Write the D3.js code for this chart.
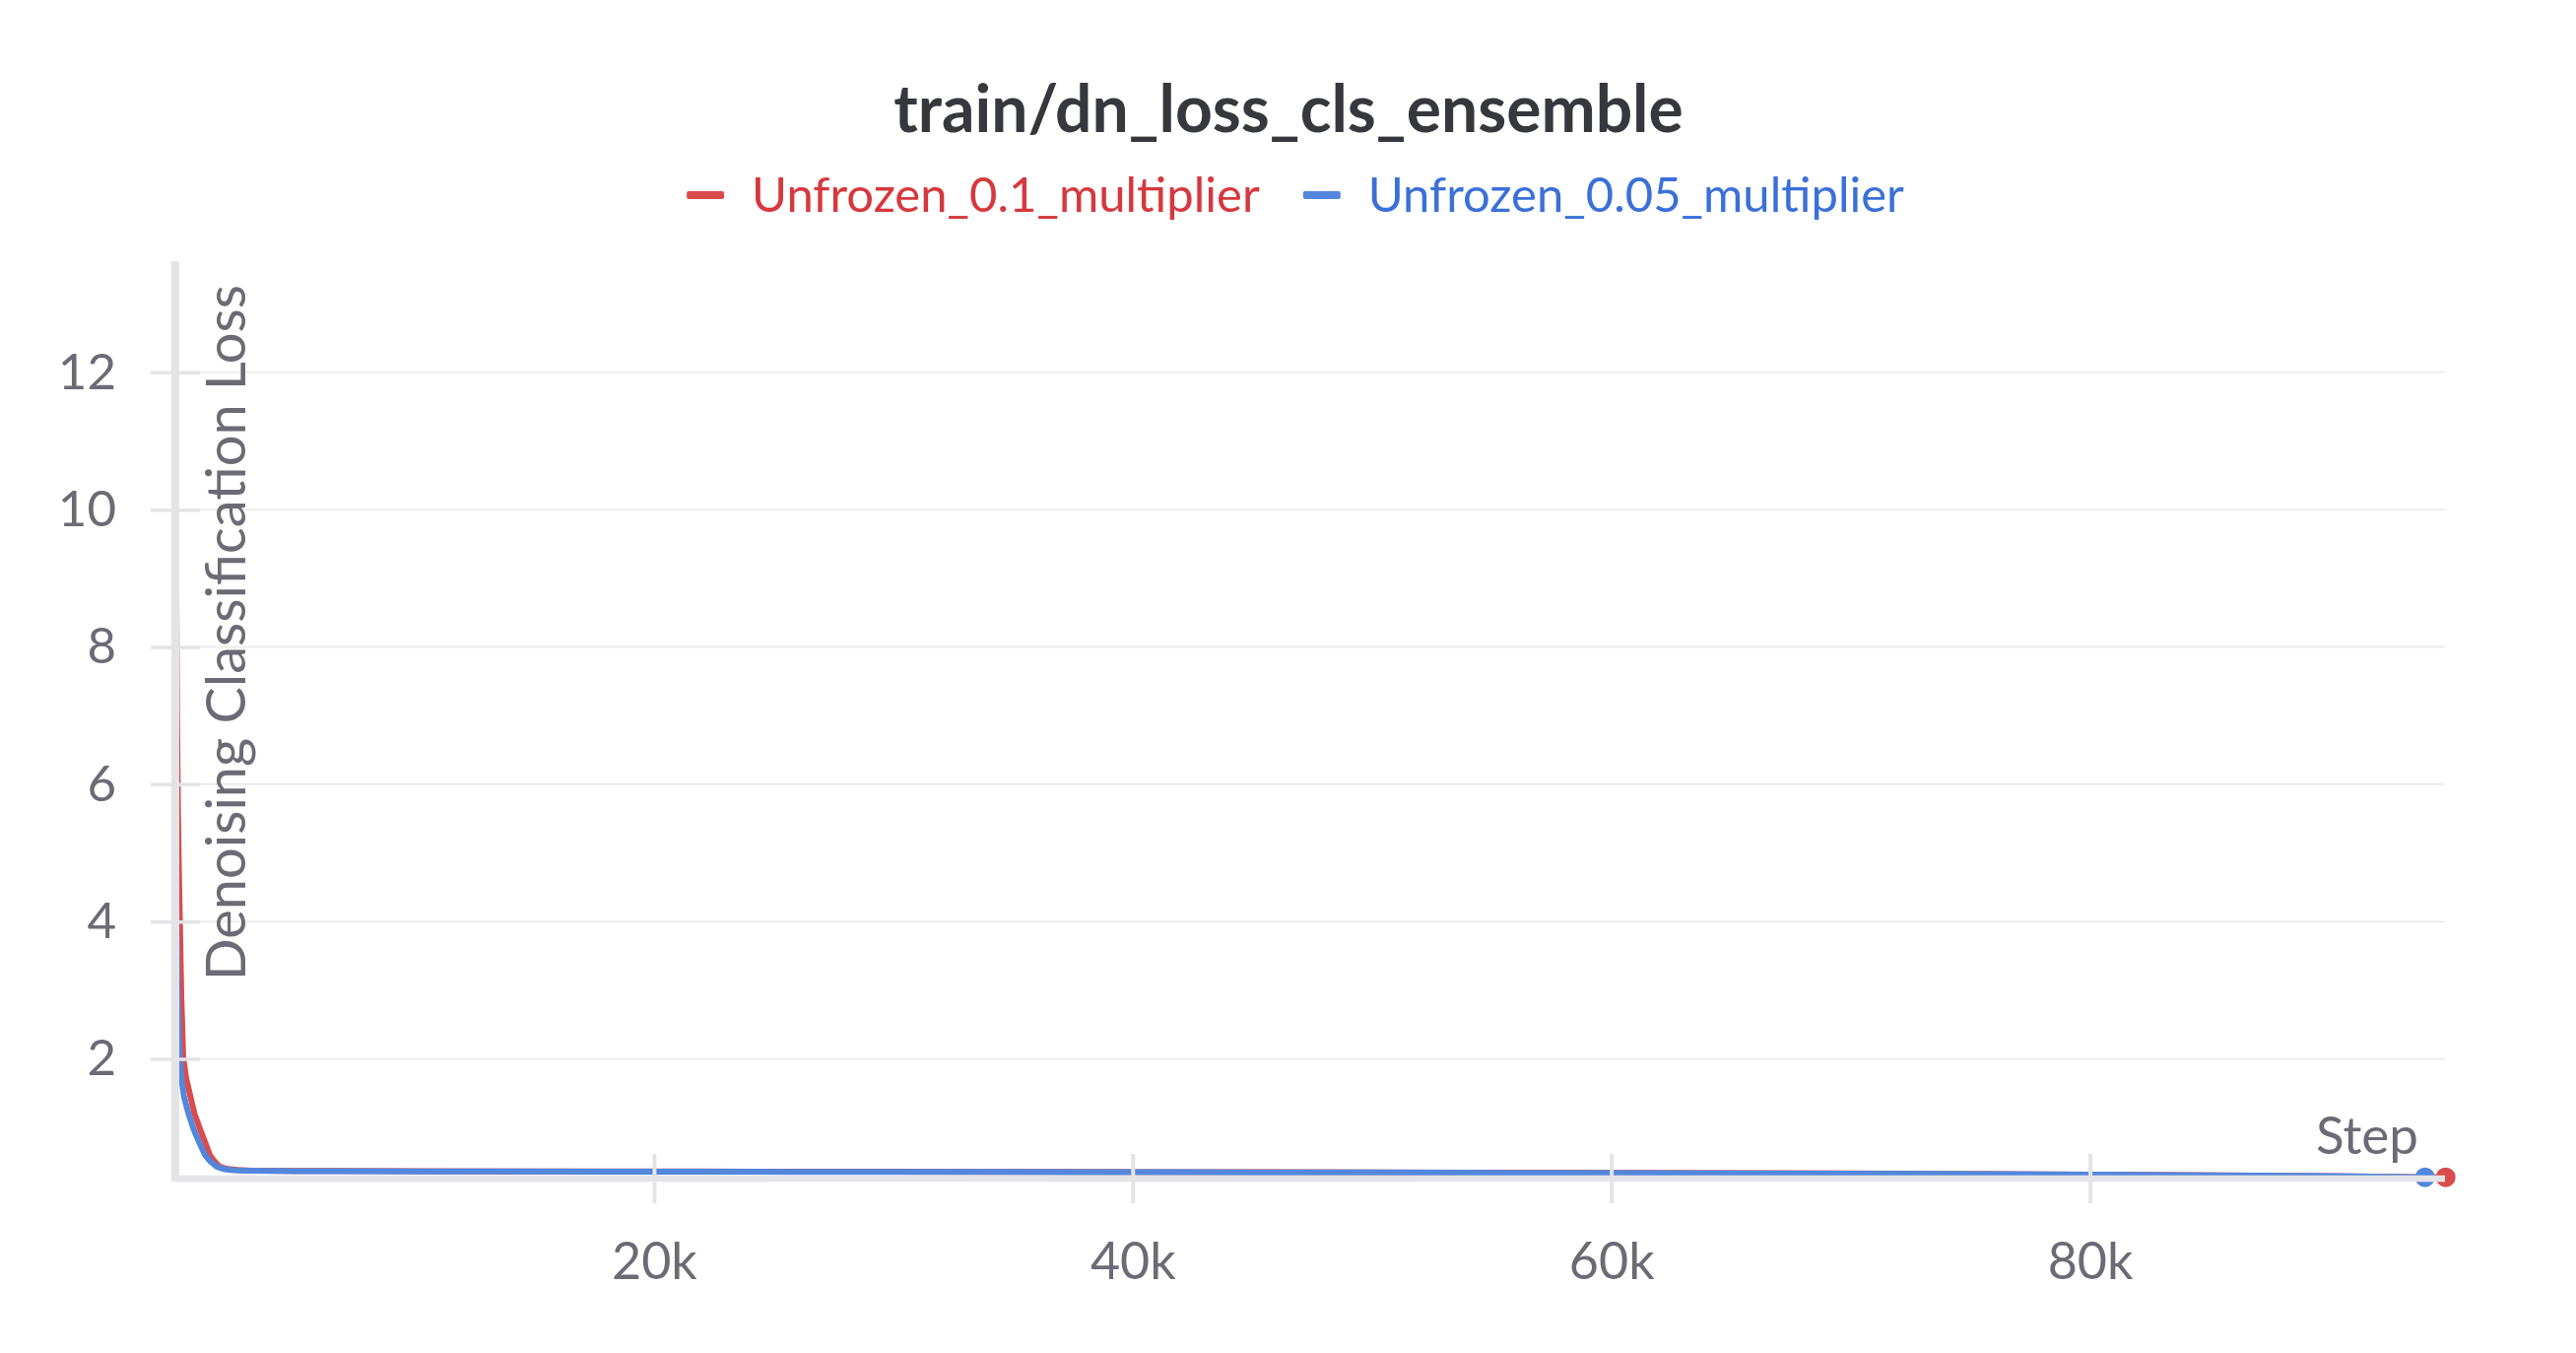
<!DOCTYPE html>
<html>
<head>
<meta charset="utf-8">
<script src="https://cdn.jsdelivr.net/npm/d3@7"></script>
<style>
  html, body { margin: 0; padding: 0; background: #fff; }
  svg { display: block; font-family: Lato, "Open Sans", sans-serif; }
</style>
</head>
<body>
<script>
// --- data ---
var seriesNames = ['Unfrozen_0.1_multiplier', 'Unfrozen_0.05_multiplier'];

var redSteps = [0, 30, 70, 110, 150, 190, 250, 330, 450, 630, 800, 1040, 1250, 1440, 1650, 1850, 2200, 2600, 3200,
    4000, 5000, 7000, 10000, 14000, 18000, 22000, 26000, 30000, 34000, 38000, 42000, 46000, 50000,
    54000, 58000, 62000, 66000, 70000, 74000, 78000, 82000, 86000, 90000, 94864];
var redLoss = [13.6, 9.5, 7.0, 5.6, 4.7, 4.0, 2.9, 2.02, 1.72, 1.45, 1.2, 0.97, 0.78, 0.6, 0.5, 0.43, 0.395, 0.38, 0.372,
    0.37, 0.368, 0.366, 0.364, 0.361, 0.36, 0.358, 0.357, 0.356, 0.354, 0.352, 0.35, 0.348, 0.345,
    0.343, 0.34, 0.337, 0.334, 0.33, 0.325, 0.318, 0.31, 0.302, 0.292, 0.275];

var blueSteps = [0, 50, 100, 150, 190, 260, 360, 550, 770, 1000, 1240, 1480, 1730, 2000, 2400, 3000,
    4000, 5000, 7000, 10000, 14000, 18000, 22000, 26000, 30000, 34000, 38000, 42000, 46000, 50000,
    54000, 58000, 62000, 66000, 70000, 74000, 78000, 82000, 86000, 90000, 94000];
var blueLoss = [6.2, 4.0, 2.9, 2.3, 2.0, 1.7, 1.45, 1.2, 0.97, 0.78, 0.6, 0.5, 0.43, 0.395, 0.378, 0.37,
    0.366, 0.364, 0.362, 0.36, 0.358, 0.356, 0.355, 0.354, 0.353, 0.351, 0.35, 0.348, 0.346, 0.344,
    0.341, 0.338, 0.335, 0.332, 0.328, 0.323, 0.316, 0.308, 0.3, 0.29, 0.275];

var yTicks = [2, 4, 6, 8, 10, 12];
var xTicks = [20000, 40000, 60000, 80000];

var colors = ['#da4c4c', '#5387dd'],
    textColors = ['#d6383d', '#3a70d8'];

var width = 2615,
    height = 1373;

var svg = d3.select('body').append('svg')
    .attr('width', width)
    .attr('height', height);

var x = d3.scaleLinear().domain([0, 94864]).range([178, 2482.7]);
var y = d3.scaleLinear().domain([0.27, 13.62]).range([1195, 265]);

// grid
svg.append('g').selectAll('line')
    .data(yTicks)
    .enter().append('line')
    .attr('x1', 182).attr('x2', 2482)
    .attr('y1', d => y(d)).attr('y2', d => y(d))
    .attr('stroke', '#ececee').attr('stroke-width', 2);

// lines
var line = d3.line()
    .x(d => x(d[0]))
    .y(d => y(d[1]));

var series = [
    d3.zip(redSteps, redLoss),
    d3.zip(blueSteps, blueLoss)
];

svg.append('g').selectAll('path')
    .data(series)
    .enter().append('path')
    .attr('d', line)
    .attr('fill', 'none')
    .attr('stroke', (d, i) => colors[i])
    .attr('stroke-width', 6)
    .attr('stroke-linejoin', 'round');

// end dots (blue first, red on top)
svg.append('g').selectAll('circle')
    .data([1, 0])
    .enter().append('circle')
    .attr('cx', i => x(series[i][series[i].length - 1][0]))
    .attr('cy', i => y(series[i][series[i].length - 1][1]))
    .attr('r', 10)
    .attr('fill', i => colors[i]);

// y axis
var yAxis = svg.append('g')
    .attr('transform', 'translate(178,0)')
    .call(d3.axisLeft(y).tickValues(yTicks).tickSize(25).tickPadding(35));
yAxis.select('.domain').remove();
yAxis.selectAll('.tick line')
    .attr('x2', 25)
    .attr('x1', -25)
    .attr('stroke', '#e4e4e7').attr('stroke-width', 3.5);
yAxis.selectAll('.tick text')
    .attr('fill', '#6c6b75').attr('font-size', 51).attr('font-family', 'Lato');

svg.append('rect')
    .attr('x', 174).attr('y', 265)
    .attr('width', 8).attr('height', 1199 - 265)
    .attr('fill', '#e4e4e8');

// x axis
var xAxis = svg.append('g')
    .attr('transform', 'translate(0,1196)')
    .call(d3.axisBottom(x).tickValues(xTicks).tickSize(25).tickPadding(40)
        .tickFormat(d => (d / 1000) + 'k'));
xAxis.select('.domain').remove();
xAxis.selectAll('.tick line')
    .attr('y1', -25).attr('y2', 25)
    .attr('stroke', '#e4e4e7').attr('stroke-width', 4);
xAxis.selectAll('.tick text')
    .attr('fill', '#6c6b75').attr('font-size', 52).attr('font-family', 'Lato');

svg.append('rect')
    .attr('x', 178).attr('y', 1192.7)
    .attr('width', 2482 - 178).attr('height', 6.6)
    .attr('fill', '#e4e4e8');

svg.append('text')
    .attr('x', 2455).attr('y', 1171)
    .attr('text-anchor', 'end')
    .attr('fill', '#6c6b75')
    .attr('font-size', 53)
    .text('Step');

svg.append('text')
    .attr('transform', 'translate(249,642) rotate(-90)')
    .attr('text-anchor', 'middle')
    .attr('fill', '#6c6b75')
    .attr('font-size', 56)
    .text('Denoising Classification Loss');

// title
svg.append('text')
    .attr('x', 1308).attr('y', 134)
    .attr('text-anchor', 'middle')
    .attr('fill', '#36383d')
    .attr('font-weight', 'bold')
    .attr('font-size', 66)
    .text('train/dn_loss_cls_ensemble');

// legend
var legend = svg.append('g');
var items = legend.selectAll('g')
    .data(seriesNames)
    .enter().append('g');
items.append('rect')
    .attr('width', 38).attr('height', 8).attr('rx', 2)
    .attr('y', -4)
    .attr('fill', (d, i) => colors[i]);
items.append('text')
    .attr('x', 66).attr('y', 17)
    .attr('fill', (d, i) => textColors[i])
    .attr('font-size', 49)
    .text(d => d);

var pos = 0;
items.each(function() {
    var w = d3.select(this).select('text').node().getComputedTextLength();
    d3.select(this).attr('transform', 'translate(' + pos + ',198)');
    pos += 66 + w + 44;
});
pos -= 44;
legend.attr('transform', 'translate(' + (1315 - pos / 2) + ',0)');
</script>
</body>
</html>
